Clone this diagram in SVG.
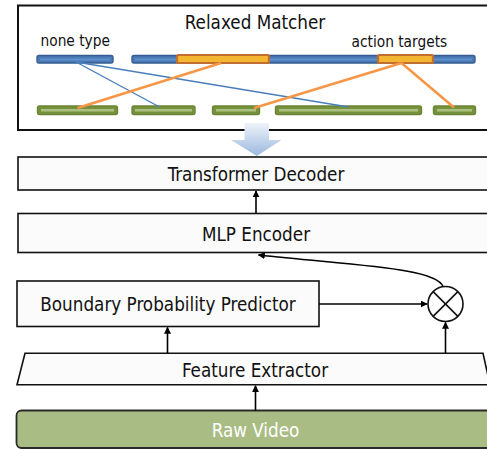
<svg xmlns="http://www.w3.org/2000/svg" width="487" height="449" viewBox="0 0 487 449">
<defs>
<style>
.box{fill:#fbfbfb;stroke:#111;stroke-width:1.6}
.t{font-family:"DejaVu Sans Condensed","DejaVu Sans",Verdana,sans-serif;font-stretch:condensed;font-size:18.7px;fill:#111;text-anchor:middle}
.lbl{font-family:"DejaVu Sans Condensed","DejaVu Sans",Verdana,sans-serif;font-stretch:condensed;font-size:15.3px;fill:#111}
.conn{fill:none;stroke:#000;stroke-width:1.6}
.blue{fill:#4a79b6;stroke:#355d90;stroke-width:1.4}
.bluein{stroke:#5f8fcc;stroke-width:2}
.org{fill:#f4b531;stroke:#c06f30;stroke-width:2.2}
.green{fill:#76923c;stroke:#6a8535;stroke-width:1.4}
.greenin{stroke:#a9c07f;stroke-width:2.5}
.bl{stroke:#4a7ebb;stroke-width:1.4}
.ol{stroke:#f79646;stroke-width:2.6}
</style>
<marker id="ah" viewBox="0 0 10 10" refX="9" refY="5" markerWidth="7" markerHeight="7" markerUnits="userSpaceOnUse" orient="auto">
<path d="M0,0 L10,5 L0,10 z" fill="#000"/>
</marker>
<linearGradient id="bg" x1="0" y1="0" x2="0" y2="1">
<stop offset="0" stop-color="#eef3fa"/>
<stop offset="1" stop-color="#9bb9df"/>
</linearGradient>
</defs>

<g id="matcher">
<rect x="18" y="5.5" width="480" height="124.5" fill="#fff" stroke="#111" stroke-width="2"/>
<text class="t" x="255" y="29">Relaxed Matcher</text>
<text class="lbl" x="40.5" y="46">none type</text>
<text class="lbl" x="351.5" y="46.5">action targets</text>
<rect class="blue" x="37" y="55.5" width="76" height="7.5" rx="2"/>
<line class="bluein" x1="40" y1="59.5" x2="110" y2="59.5"/>
<rect class="blue" x="132" y="55.5" width="343" height="7.5" rx="2"/>
<line class="bluein" x1="135" y1="59.5" x2="472" y2="59.5"/>
<rect class="org" x="177" y="55" width="92" height="8" rx="1.5"/>
<rect class="org" x="378" y="55" width="55" height="8" rx="1.5"/>
<rect class="green" x="37.5" y="106" width="80" height="8.5" rx="2"/>
<line class="greenin" x1="41" y1="110.3" x2="114" y2="110.3"/>
<rect class="green" x="132" y="106" width="63" height="8.5" rx="2"/>
<line class="greenin" x1="135" y1="110.3" x2="192" y2="110.3"/>
<rect class="green" x="212.5" y="106" width="47" height="8.5" rx="2"/>
<line class="greenin" x1="216" y1="110.3" x2="256" y2="110.3"/>
<rect class="green" x="275.5" y="106" width="146" height="8.5" rx="2"/>
<line class="greenin" x1="279" y1="110.3" x2="418" y2="110.3"/>
<rect class="green" x="433.5" y="106" width="42" height="8.5" rx="2"/>
<line class="greenin" x1="437" y1="110.3" x2="472" y2="110.3"/>
<line class="bl" x1="76" y1="62" x2="159.5" y2="107"/>
<line class="bl" x1="76" y1="62" x2="348.5" y2="107"/>
<line class="ol" x1="221" y1="63" x2="77.5" y2="108"/>
<line class="ol" x1="401.5" y1="63" x2="254" y2="108"/>
<line class="ol" x1="401.5" y1="63" x2="454" y2="107.5"/>
</g>

<g id="bigarrow">
<path d="M244.5,123 L269,123 L269,140 L281.5,140 L256.8,156 L231,140 L244.5,140 Z" fill="url(#bg)"/>
</g>

<g id="decoder">
<rect class="box" x="18" y="157" width="480" height="33"/>
<text class="t" x="256" y="181">Transformer Decoder</text>
</g>

<g id="mlp">
<rect class="box" x="18" y="213.5" width="480" height="39"/>
<text class="t" x="256" y="241">MLP Encoder</text>
</g>

<g id="bpp">
<rect class="box" x="17" y="281" width="302" height="45.5"/>
<text class="t" x="168" y="311">Boundary Probability Predictor</text>
</g>

<g id="mult">
<circle cx="445.5" cy="304" r="17.5" fill="#fff" stroke="#111" stroke-width="1.6"/>
<line x1="433.1" y1="291.6" x2="457.9" y2="316.4" stroke="#111" stroke-width="1.6"/>
<line x1="457.9" y1="291.6" x2="433.1" y2="316.4" stroke="#111" stroke-width="1.6"/>
</g>

<g id="fe">
<path class="box" d="M25,353.3 L483,353.3 L490,384.8 L17,384.8 Z"/>
<text class="t" x="255" y="376.5">Feature Extractor</text>
</g>

<g id="raw">
<rect x="16.5" y="410.5" width="490" height="37.5" rx="5" fill="#a9bc84" stroke="#2a2a2a" stroke-width="1.8"/>
<text class="t" x="255.5" y="437" style="fill:#fff">Raw Video</text>
</g>

<g id="connectors">
<line class="conn" x1="256" y1="213.5" x2="256" y2="191" marker-end="url(#ah)"/>
<line class="conn" x1="319" y1="304" x2="427" y2="304" marker-end="url(#ah)"/>
<line class="conn" x1="167.5" y1="353.3" x2="167.5" y2="327.5" marker-end="url(#ah)"/>
<line class="conn" x1="445.5" y1="353.3" x2="445.5" y2="322.5" marker-end="url(#ah)"/>
<line class="conn" x1="255.5" y1="410.5" x2="255.5" y2="385.8" marker-end="url(#ah)"/>
<path class="conn" d="M443,286.5 C436,268 360,266 258.5,255" marker-end="url(#ah)"/>
</g>
</svg>
